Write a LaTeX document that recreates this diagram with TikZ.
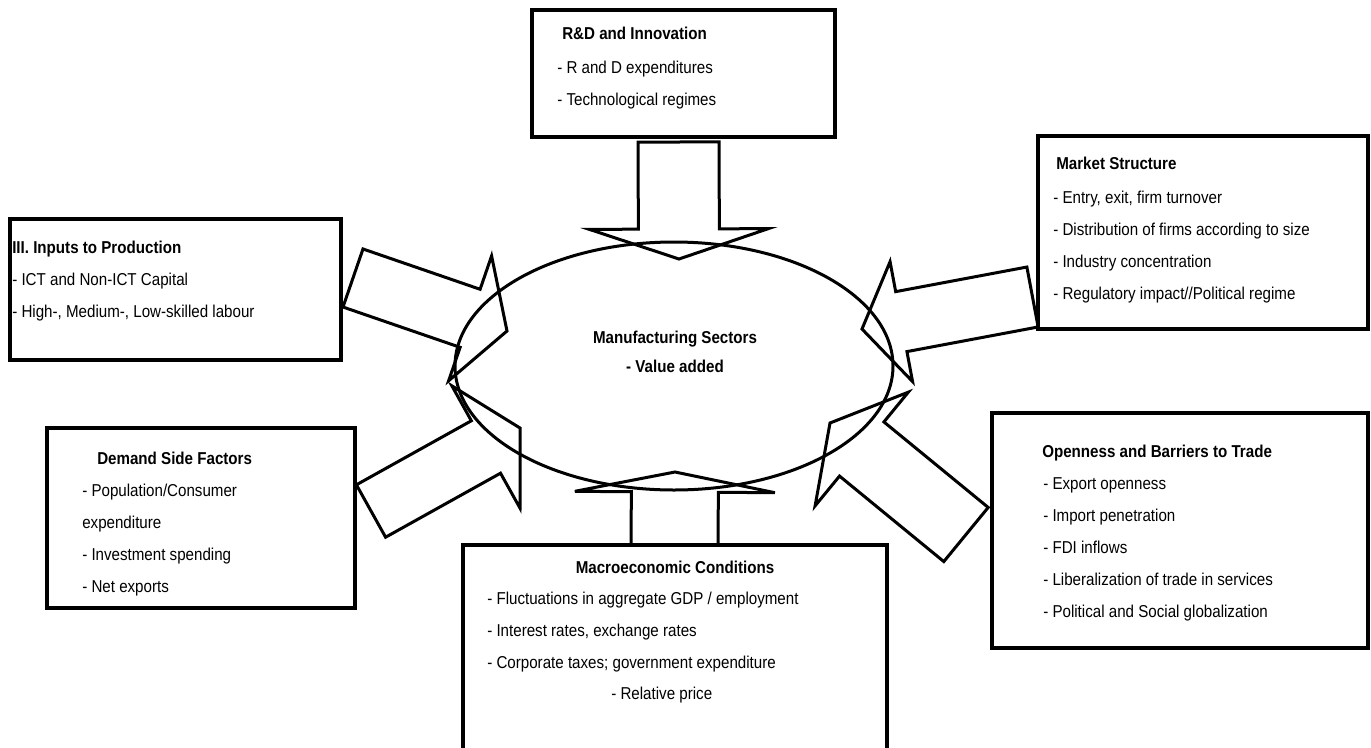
\documentclass[tikz,border=0pt]{standalone}
\usepackage{fontspec}
\setmainfont{Liberation Sans}[FakeStretch=0.88]
\usetikzlibrary{calc,fit}

\newcommand{\boxfont}{\fontsize{12.9}{24}\selectfont}
% block arrow: tail, tip, half shaft, half head, head length
\newcommand{\blockarrow}[5]{%
	\coordinate (ba-j) at ($(#2)!#5*0.75pt!(#1)$);
	\draw[fatarrow] ($(#1)!#3*0.75pt!90:(#2)$) -- ($(ba-j)!#3*0.75pt!-90:(#1)$)
		-- ($(ba-j)!#4*0.75pt!-90:(#1)$) -- (#2) -- ($(ba-j)!#4*0.75pt!90:(#1)$)
		-- ($(ba-j)!#3*0.75pt!90:(#1)$) -- ($(#1)!#3*0.75pt!-90:(#2)$) -- cycle;
}

\begin{document}
\begin{tikzpicture}[x=0.75pt, y=-0.75pt,
	box/.style={draw, line width=3pt, inner sep=0pt},
	fatarrow/.style={line width=2.25pt, line join=miter},
	title/.style={font=\boxfont\bfseries, anchor=base west, inner sep=0pt},
	item/.style={font=\boxfont, anchor=base west, inner sep=0pt}]
\useasboundingbox (0,0) rectangle (1371,747);

% centre
\draw[line width=2.25pt] (674,366) ellipse (219 and 124);
\node[title, anchor=base] (mfg) at (675,343) {Manufacturing Sectors};
\node[title, anchor=base] (va) at (675,372) {- Value added};

% boxes
\node[box, fit={(532,10) (835,137)}] (rd) {};
\node[title] at (562,39) {R\&D and Innovation};
\foreach \t [count=\i] in {- R and D expenditures, - Technological regimes}
	\node[item] at (557,41+32*\i) {\t};

\node[box, fit={(1038,136) (1368,329)}] (ms) {};
\node[title] at (1056,169) {Market Structure};
\foreach \t [count=\i] in {{- Entry, exit, firm turnover}, - Distribution of firms according to size,
	- Industry concentration, - Regulatory impact//Political regime}
	\node[item] at (1053,171+32*\i) {\t};

\node[box, fit={(10,219) (341,360)}] (inp) {};
\node[title] at (12,253) {III. Inputs to Production};
\foreach \t [count=\i] in {- ICT and Non-ICT Capital, {- High-, Medium-, Low-skilled labour}}
	\node[item] at (12,253+32*\i) {\t};

\node[box, fit={(47,428) (355,608)}] (dem) {};
\node[title] at (97,464) {Demand Side Factors};
\foreach \t [count=\i] in {- Population/Consumer, expenditure, - Investment spending, - Net exports}
	\node[item] at (82,464+32*\i) {\t};

\node[box, fit={(992,413) (1368,648)}] (opn) {};
\node[title] at (1042,457) {Openness and Barriers to Trade};
\foreach \t [count=\i] in {- Export openness, - Import penetration, - FDI inflows,
	- Liberalization of trade in services, - Political and Social globalization}
	\node[item] at (1043,457+32*\i) {\t};

\node[box, fit={(463,545) (887,800)}] (mac) {};
\node[title, anchor=base] at (675,573) {Macroeconomic Conditions};
\foreach \t [count=\i] in {- Fluctuations in aggregate GDP / employment, {- Interest rates, exchange rates},
	- Corporate taxes; government expenditure}
	\node[item] at (487,572+32*\i) {\t};
\node[item] at (611,699) {- Relative price};

% arrows into the ellipse
\coordinate (rd-t) at (678.5,142);   \coordinate (rd-h) at (679,259);
\coordinate (mac-t) at (674.5,545);  \coordinate (mac-h) at (675,472);
\coordinate (inp-t) at (353,278);    \coordinate (inp-h) at (507,331);
\coordinate (dem-t) at (371,511);    \coordinate (dem-h) at (520,428);
\coordinate (ms-t) at (1032.5,297);  \coordinate (ms-h) at (862,329);
\coordinate (opn-t) at (966,534.5);  \coordinate (opn-h) at (830,423);
\blockarrow{rd-t}{rd-h}{40.5}{89.5}{30}
\blockarrow{mac-t}{mac-h}{43.5}{100}{20}
\blockarrow{inp-t}{inp-h}{30.7}{66}{39}
\blockarrow{dem-t}{dem-h}{30}{70}{39}
\blockarrow{ms-t}{ms-h}{30.5}{61}{40}
\blockarrow{opn-t}{opn-h}{35}{73.5}{41}
\end{tikzpicture}
\end{document}
